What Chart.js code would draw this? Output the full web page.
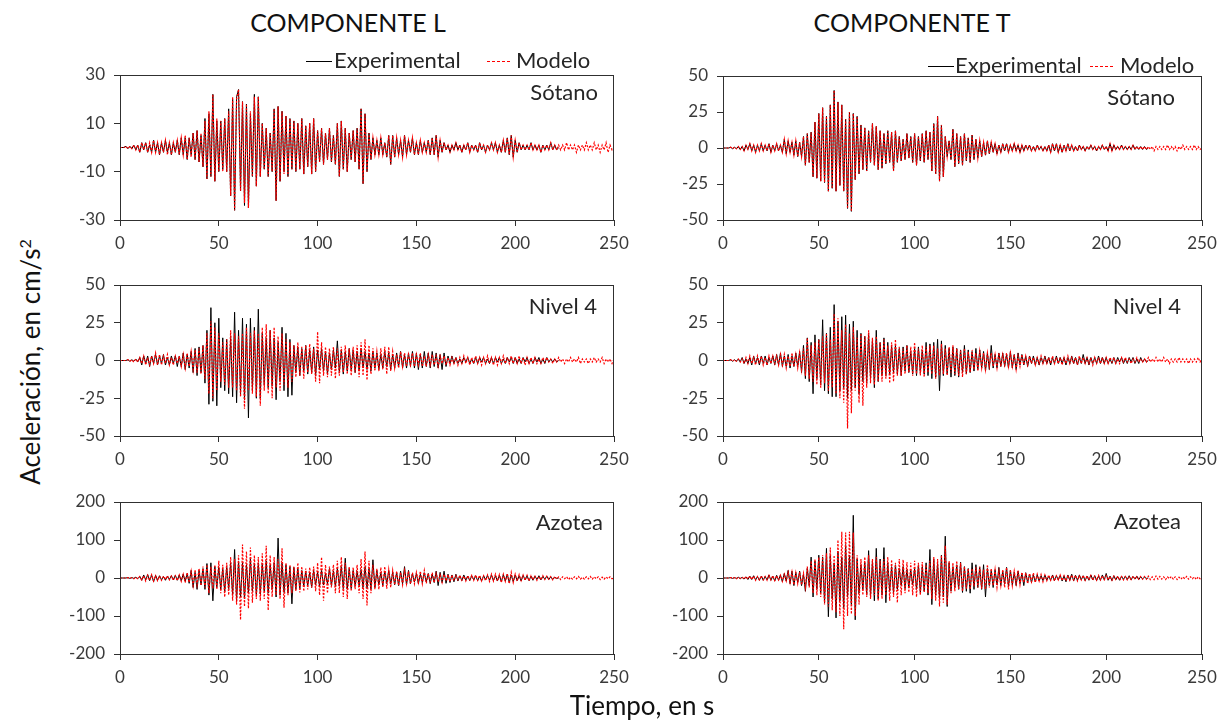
<!DOCTYPE html>
<html lang="es">
<head>
<meta charset="utf-8">
<script src="https://cdn.jsdelivr.net/npm/chart.js@4.4.1/dist/chart.umd.min.js"></script>
<style>
body{margin:0;background:#fff;font-family:Lato,'Open Sans',sans-serif;color:#000}
#lienzo{position:relative;width:1230px;height:724px;overflow:hidden}
#lienzo canvas{position:absolute}
.txt{position:absolute;white-space:nowrap;line-height:1}
.linea{position:absolute;height:1px}
</style>
</head>
<body>
<div id="lienzo"></div>
<script>
// textos
const componentes = ['COMPONENTE L', 'COMPONENTE T'];
const niveles = ['Sótano', 'Nivel 4', 'Azotea'];
const series = ['Experimental', 'Modelo'];
const ejeY = 'Aceleración, en cm/s';
const ejeX = 'Tiempo, en s';

// paso de tiempo de las muestras, s
const PASO = 1;
const tiempoMin = 0, tiempoMax = 250, tiempoPaso = 50;
const limitesY = [[-30, 30, 20], [-50, 50, 25], [-200, 200, 100]];
const limitesYT = [[-50, 50, 25], [-50, 50, 25], [-200, 200, 100]];

// Componente L - Sotano
const expLSotano = [
0,0,0,0.5,-0.5,0.5,-0.5,1,-1,1,
-2,2,-1,2,-2,1,-2,3,-2,2,
-3,2,-2,3,-2,2,-3,2,-2,3,
-3,4,-3,4,-5,4,-3,6,-5,7,
-6,5,-8,12,-13,14,-12,22,-14,11,
-10,11,-9,12,-10,16,-20,20,-26,21,
24,-18,19,-24,18,-25,14,-12,22,-16,
21,-12,10,-9,8,-12,6,-10,16,-22,
17,-14,15,-10,13,-12,12,-9,11,-10,
10,-9,12,-11,9,-8,10,-11,12,-10,
7,-6,8,-7,6,-5,8,-6,5,-7,
10,-12,11,-9,8,-10,6,-5,7,-6,
8,-9,16,-15,14,-10,6,-5,4,-3,
3,-3,4,-3,2,-4,5,-7,5,-4,
4,-3,3,-4,5,-3,3,-2,4,-3,
2,-3,3,-2,2,-2,3,-3,4,-3,
5,-4,3,-2,2,-1,1,-2,1,-1,
2,-1,1,-2,1,-1,2,-2,1,-1,
1,-2,2,-1,1,-2,1,-1,2,-1,
2,-2,1,-2,3,-2,4,-3,5,-4,
3,-2,2,-1,1,-1,1,-1,2,-1,
1,-1,1,-2,1,-1,1,-1,2,-1,
1,-1,0];
const modLSotano = [
0,0,0,0.5,-0.5,0.5,-0.5,1,-1,1,
-2,2,-1,2,-2,2,-2,3,-2,2,
-3,2,-2,3,-3,2,-3,2,-2,3,
-3,4,-3,5,-5,4,-4,6,-5,7,
-6,6,-8,11,-13,15,-12,22,-14,12,
-10,11,-10,12,-10,15,-20,21,-26,20,
24,-18,19,-23,18,-25,15,-12,21,-16,
21,-12,10,-9,8,-12,6,-10,16,-22,
17,-14,15,-11,13,-12,12,-9,11,-10,
10,-9,12,-11,9,-8,10,-11,12,-10,
7,-6,8,-7,6,-5,8,-6,5,-7,
10,-12,11,-9,8,-10,6,-5,7,-6,
8,-9,16,-15,14,-10,6,-5,4,-3,
3,-3,4,-3,2,-4,5,-7,5,-4,
4,-3,3,-4,5,-3,3,-2,4,-3,
2,-3,3,-2,2,-2,3,-3,4,-3,
5,-4,3,-2,2,-1,1,-2,1,-1,
2,-1,1,-2,1,-1,2,-2,1,-1,
1,-2,2,-1,1,-2,1,-1,2,-1,
2,-2,1,-2,3,-2,4,-3,5,-4,
3,-2,2,-1,1,-1,1,-1,2,-1,
1,-1,1,-2,1,-1,1,-1,2,-1,
1,-1,1,-1,1,-1,2,-1,1,-1,
1,-2,1,-1,1,-1,2,-1,1,-1,
2,-1,1,-2,1,-1,2,-2,1,-1,
0];

// Componente L - Nivel 4
const expLNivel4 = [
0,0,0,0,0.5,-0.5,0.5,-0.5,1,-1,
2,-3,3,-2,3,-4,3,-2,4,-3,
3,-2,4,-3,2,-3,3,-2,3,-4,
3,-4,5,-6,4,-5,6,-8,8,-10,
9,-8,10,-15,20,-29,35,-27,25,-30,
28,-18,15,-20,14,-22,16,-24,32,-28,
20,-22,28,-26,24,-38,28,-20,22,-25,
34,-25,18,-16,15,-18,20,-17,15,-26,
12,-14,22,-20,18,-24,14,-23,10,-8,
9,-10,8,-7,10,-9,7,-8,9,-10,
7,-6,8,-7,6,-9,5,-6,7,-5,
13,-8,7,-9,6,-7,8,-6,7,-8,
6,-7,8,-5,6,-6,5,-7,6,-5,
5,-6,4,-5,6,-4,5,-6,4,-5,
5,-4,6,-5,4,-5,5,-4,6,-5,
5,-6,4,-5,6,-4,5,-5,6,-4,
5,-5,4,-6,5,-4,3,-2,3,-2,
2,-2,1,-2,2,-1,2,-2,1,-2,
2,-2,2,-1,2,-2,1,-2,2,-2,
2,-1,2,-2,1,-2,2,-1,2,-2,
2,-2,1,-2,2,-1,2,-2,1,-2,
2,-1,2,-2,1,-2,2,-1,1,-1,
1,-1,0];
const modLNivel4 = [
0,0,0,0,0.5,-0.5,0.5,-1,1,-1,
2,-2,3,-3,2,-3,3,-2,5,-3,
4,-3,3,-2,4,-3,2,-3,3,-2,
3,-4,4,-5,5,-4,6,-6,7,-8,
8,-9,10,-12,18,-22,26,-25,22,-20,
18,-14,12,-16,14,-18,20,-18,18,-20,
16,-24,18,-32,22,-20,18,-22,20,-24,
18,-30,22,-20,24,-22,20,-25,22,-18,
16,-20,18,-16,14,-18,12,-14,10,-11,
12,-10,9,-12,10,-8,11,-9,8,-14,
19,-15,12,-10,9,-11,8,-10,9,-12,
8,-10,9,-8,10,-9,8,-10,9,-8,
10,-11,12,-10,14,-13,10,-9,8,-7,
6,-7,8,-6,9,-9,9,-7,6,-5,
4,-5,6,-4,5,-4,4,-3,5,-4,
4,-3,5,-4,3,-4,4,-3,4,-3,
3,-4,3,-2,3,-3,2,-3,2,-2,
2,-3,2,-2,3,-2,2,-3,2,-2,
3,-2,2,-3,2,-2,3,-2,2,-3,
2,-3,2,-2,3,-2,2,-2,3,-2,
2,-2,3,-2,2,-3,2,-2,2,-2,
2,-2,1,-2,2,-1,2,-1,1,-2,
1,-1,2,-1,1,-2,1,-1,2,-1,
1,-1,2,-2,1,-1,1,-2,1,-1,
2,-1,1,-1,2,-2,1,-1,1,-2,
1];

// Componente L - Azotea
const expLAzotea = [
0,0,0,0,1,-1,1,-1,2,-2,
4,-6,8,-5,9,-7,8,-10,7,-6,
6,-5,4,-6,5,-4,6,-5,7,-6,
8,-7,10,-9,12,-14,20,-25,15,-30,
20,-18,25,-30,38,-45,40,-60,30,-25,
28,-30,25,-35,30,-28,40,-45,75,-60,
45,-50,40,-55,35,-40,50,-35,38,-45,
40,-42,38,-35,45,-40,35,-30,40,-50,
105,-45,40,-38,35,-40,30,-68,28,-30,
25,-28,20,-22,18,-20,15,-25,20,-18,
15,-22,20,-18,12,-15,25,-20,18,-22,
25,-20,30,-28,52,-30,25,-28,20,-22,
18,-20,22,-25,30,-28,25,-30,48,-25,
20,-18,15,-20,18,-15,20,-16,15,-18,
15,-20,18,-15,30,-18,20,-15,12,-10,
12,-15,10,-12,14,-10,12,-15,10,-12,
18,-20,15,-12,18,-14,10,-12,8,-10,
10,-8,6,-7,8,-6,5,-7,6,-5,
6,-7,5,-8,6,-5,7,-6,8,-7,
6,-8,7,-10,9,-8,10,-12,8,-10,
8,-7,6,-8,7,-5,6,-7,5,-6,
5,-4,6,-5,4,-3,5,-4,3,-4,
2,-1,0];
const modLAzotea = [
0,0,0,0,1,-1,1,-2,2,-2,
4,-5,6,-8,7,-6,9,-8,6,-7,
5,-6,5,-4,6,-5,5,-6,6,-7,
8,-9,10,-12,14,-12,18,-20,22,-18,
25,-20,30,-25,35,-40,30,-28,35,-30,
45,-40,35,-50,40,-45,55,-60,50,-70,
60,-110,88,-75,70,-80,80,-65,60,-55,
55,-60,65,-55,85,-85,60,-50,55,-45,
50,-55,78,-78,40,-45,35,-40,30,-35,
40,-38,30,-35,25,-30,28,-25,30,-35,
40,-45,55,-60,35,-40,30,-25,35,-40,
45,-40,55,-50,40,-55,30,-35,28,-30,
35,-40,50,-55,70,-72,45,-40,35,-30,
25,-30,28,-25,30,-28,22,-25,20,-18,
18,-20,15,-18,20,-15,18,-16,14,-15,
15,-12,18,-15,20,-14,12,-10,14,-12,
12,-10,8,-12,10,-8,9,-10,8,-7,
6,-5,7,-6,5,-8,6,-5,7,-6,
8,-6,7,-8,6,-7,8,-9,10,-8,
10,-8,9,-12,10,-9,12,-15,15,-12,
10,-8,9,-7,8,-6,7,-8,6,-5,
5,-6,4,-5,6,-4,5,-3,4,-5,
4,-3,3,-4,3,-2,3,-4,2,-3,
3,-2,4,-3,2,-3,3,-2,4,-3,
3,-2,3,-4,2,-3,3,-2,3,-2,
1];

// Componente T - Sotano
const expTSotano = [
0,0,0,0,0.5,-0.5,0.5,-0.5,1,-1,
1,-2,2,-1,3,-2,2,-3,2,-2,
3,-2,2,-2,3,-3,2,-2,3,-2,
2,-3,6,-4,5,-3,4,-5,5,-6,
4,-6,8,-12,10,-10,11,-20,18,-21,
24,-23,28,-24,22,-30,30,-28,40,-30,
32,-26,30,-30,20,-42,25,-44,24,-22,
22,-18,16,-15,14,-16,12,-10,17,-12,
15,-15,12,-14,10,-11,12,-10,11,-16,
12,-10,8,-9,6,-8,10,-7,8,-10,
10,-12,8,-9,10,-10,12,-8,11,-16,
17,-18,22,-23,16,-20,8,-6,5,-8,
13,-13,10,-11,8,-12,10,-9,7,-10,
9,-8,6,-7,5,-6,4,-5,5,-4,
4,-3,3,-4,2,-3,3,-2,3,-3,
2,-2,3,-2,2,-3,2,-2,2,-1,
2,-2,1,-2,2,-1,1,-2,1,-2,
2,-3,3,-2,3,-3,2,-3,2,-2,
3,-2,2,-2,1,-2,2,-1,1,-2,
1,-1,2,-1,1,-2,1,-1,2,-1,
1,-2,3,-2,2,-1,1,-1,2,-1,
1,-1,1,-1,2,-1,1,-1,1,-1,
1,-1,0];
const modTSotano = [
0,0,0,0,0.5,-0.5,0.5,-0.5,1,-1,
1,-2,2,-1,3,-2,2,-3,2,-2,
3,-2,2,-2,3,-3,2,-2,3,-2,
2,-3,6,-4,5,-3,4,-5,5,-6,
4,-6,8,-12,10,-10,11,-20,18,-21,
24,-23,28,-24,22,-30,30,-28,40,-30,
32,-26,30,-30,20,-42,25,-44,24,-22,
22,-18,16,-15,14,-16,12,-10,17,-12,
15,-15,12,-14,10,-11,12,-10,11,-16,
12,-10,8,-9,6,-8,10,-7,8,-10,
10,-12,8,-9,10,-10,12,-8,11,-16,
17,-18,22,-23,16,-20,8,-6,5,-8,
13,-13,10,-11,8,-12,10,-9,7,-10,
9,-8,6,-7,5,-6,4,-5,5,-4,
4,-3,3,-4,2,-3,3,-2,3,-3,
2,-2,3,-2,2,-3,2,-2,2,-1,
2,-2,1,-2,2,-1,1,-2,1,-2,
2,-3,3,-2,3,-3,2,-3,2,-2,
3,-2,2,-2,1,-2,2,-1,1,-2,
1,-1,2,-1,1,-2,1,-1,2,-1,
1,-2,3,-2,2,-1,1,-1,2,-1,
1,-1,1,-1,2,-1,1,-1,1,-1,
1,-1,1,-1,1,-2,1,-1,1,-1,
1,-1,2,-1,1,-1,1,-2,1,-1,
2,-1,1,-1,1,-1,2,-1,1,-1,
0];

// Componente T - Nivel 4
const expTNivel4 = [
0,0,0,0,0.5,-0.5,0.5,-0.5,1,-1,
2,-2,1,-2,2,-3,3,-2,2,-3,
3,-2,3,-3,2,-2,3,-3,4,-3,
5,-4,3,-4,4,-5,3,-4,5,-4,
6,-8,10,-12,15,-14,12,-22,17,-12,
14,-16,27,-20,18,-22,22,-24,37,-24,
26,-20,29,-18,30,-25,24,-20,26,-18,
20,-22,18,-14,16,-15,18,-12,14,-18,
20,-14,12,-10,15,-10,12,-9,10,-8,
10,-9,8,-10,9,-7,10,-8,6,-9,
8,-10,9,-8,7,-9,12,-10,11,-12,
12,-11,14,-20,13,-10,10,-9,8,-11,
9,-10,8,-11,7,-8,10,-9,7,-8,
6,-7,8,-6,7,-5,6,-7,5,-6,
10,-5,4,-5,5,-4,5,-4,4,-5,
6,-5,4,-6,5,-3,4,-3,3,-4,
3,-2,3,-3,2,-3,2,-2,3,-2,
2,-3,2,-2,3,-2,2,-2,2,-3,
2,-2,3,-2,2,-3,2,-2,4,-2,
2,-3,2,-2,2,-2,3,-2,2,-2,
2,-2,1,-2,2,-2,2,-1,2,-2,
1,-2,2,-1,2,-2,1,-2,2,-1,
1,-1,0];
const modTNivel4 = [
0,0,0,0,0.5,-0.5,0.5,-0.5,1,-1,
1,-2,2,-2,3,-2,2,-3,3,-2,
3,-3,2,-3,3,-2,3,-2,3,-3,
4,-3,4,-5,3,-4,5,-4,4,-5,
5,-6,8,-10,15,-12,10,-14,12,-16,
14,-18,16,-15,18,-20,14,-18,31,-22,
28,-25,20,-28,24,-45,18,-35,22,-20,
15,-28,18,-30,16,-18,20,-15,15,-16,
16,-14,12,-14,14,-12,10,-15,12,-14,
14,-10,9,-10,8,-9,10,-8,9,-10,
12,-9,8,-10,10,-11,9,-8,10,-9,
10,-12,8,-10,11,-9,8,-10,9,-8,
10,-9,8,-10,7,-11,8,-9,6,-8,
7,-6,5,-7,6,-5,5,-6,5,-4,
5,-4,4,-5,5,-4,4,-3,5,-4,
5,-4,4,-6,3,-4,4,-3,3,-3,
3,-2,2,-3,2,-2,3,-2,2,-2,
2,-2,3,-2,2,-2,2,-3,2,-2,
3,-2,2,-2,2,-3,3,-2,2,-2,
2,-2,2,-3,2,-2,2,-2,2,-2,
2,-2,2,-1,2,-2,1,-2,2,-1,
2,-1,1,-2,1,-1,2,-1,1,-1,
1,-1,2,-1,1,-1,2,-1,1,-1,
2,-1,1,-2,1,-1,1,-1,2,-1,
1,-1,1,-2,1,-1,1,-1,2,-1,
1];

// Componente T - Azotea
const expTAzotea = [
0,0,0,0,1,-1,1,-1,2,-2,
2,-3,3,-4,5,-4,6,-5,4,-6,
5,-6,4,-5,8,-6,5,-8,7,-6,
8,-10,12,-8,20,-15,18,-20,15,-12,
18,-20,10,-35,25,-20,55,-50,45,-30,
60,-40,55,-65,78,-102,60,-55,40,-105,
70,-60,55,-80,88,-50,60,-70,165,-110,
50,-40,35,-30,40,-45,72,-50,45,-60,
78,-55,50,-45,80,-65,40,-35,30,-40,
35,-30,25,-20,30,-28,22,-25,20,-18,
25,-30,35,-40,30,-35,40,-45,75,-70,
50,-45,40,-55,60,-50,110,-75,40,-35,
30,-25,35,-30,42,-38,30,-35,25,-40,
40,-30,35,-25,28,-30,35,-50,25,-20,
20,-25,22,-18,28,-20,18,-15,28,-22,
20,-18,15,-20,18,-15,12,-20,14,-12,
10,-12,8,-10,9,-8,6,-7,8,-6,
5,-6,8,-7,6,-5,7,-8,6,-10,
8,-6,10,-8,7,-6,8,-5,6,-7,
5,-6,8,-5,6,-7,5,-6,8,-5,
12,-6,5,-7,6,-5,4,-6,5,-4,
5,-4,6,-5,4,-3,5,-4,3,-2,
2,-1,0];
const modTAzotea = [
0,0,0,0,1,-1,1,-2,2,-1,
2,-3,4,-3,5,-4,5,-6,4,-5,
6,-5,4,-6,7,-5,6,-7,6,-5,
7,-9,10,-8,15,-12,16,-18,14,-15,
16,-18,12,-25,30,-25,45,-40,50,-45,
55,-50,60,-70,65,-75,80,-85,60,-90,
100,-100,122,-135,120,-100,122,-95,120,-100,
60,-70,50,-45,55,-50,60,-55,50,-45,
55,-60,45,-55,50,-45,55,-60,48,-50,
40,-65,50,-45,48,-40,42,-38,40,-45,
45,-50,40,-45,42,-38,35,-40,45,-55,
55,-60,50,-75,60,-65,85,-70,45,-40,
40,-35,45,-30,40,-35,30,-28,25,-30,
25,-22,28,-25,30,-28,22,-30,35,-25,
25,-20,22,-25,18,-20,22,-25,28,-30,
22,-20,18,-15,20,-18,15,-12,14,-15,
12,-10,14,-12,10,-8,9,-10,8,-7,
8,-6,7,-8,6,-5,8,-7,6,-8,
7,-6,8,-5,7,-8,6,-5,7,-6,
6,-5,7,-6,5,-6,7,-5,6,-5,
6,-5,4,-6,5,-4,5,-6,4,-5,
4,-5,3,-4,5,-3,4,-3,4,-3,
4,-3,5,-4,3,-4,5,-3,4,-3,
3,-4,3,-2,4,-3,3,-4,2,-3,
3,-2,4,-3,3,-2,3,-4,3,-2,
1];

Chart.defaults.font.family = "Lato, 'Open Sans', sans-serif";
Chart.defaults.color = '#3a3a3a';

const lienzo = document.getElementById('lienzo');
const ML = 70, MT = 24, MR = 26, MB = 38;
const colorEje = '#303030';
const fuenteTicks = {size: 17};

function pares(serie){
    return serie.map((v, i) => ({x: i * PASO, y: v}));
}

const marco = {
    id: 'marco',
    afterDraw(c){
        const a = c.chartArea, ctx = c.ctx;
        ctx.save();
        ctx.strokeStyle = colorEje;
        ctx.lineWidth = 1;
        ctx.strokeRect(Math.round(a.left) + 0.5, Math.round(a.top) + 0.5,
            Math.round(a.right - a.left) - 1, Math.round(a.bottom - a.top));
        ctx.restore();
    }
};

function texto(t, css, html){
    const d = document.createElement('div');
    d.className = 'txt';
    if (html) d.innerHTML = t; else d.textContent = t;
    Object.assign(d.style, css);
    lienzo.appendChild(d);
    return d;
}

function panel(p){
    const cv = document.createElement('canvas');
    const W = p.w + ML + MR, H = p.h + MT + MB;
    cv.width = W; cv.height = H;
    cv.style.left = (p.left - ML) + 'px';
    cv.style.top = (p.top - MT) + 'px';
    cv.style.width = W + 'px'; cv.style.height = H + 'px';
    lienzo.appendChild(cv);
    new Chart(cv, {
        type: 'line',
        data: {
            datasets: [
                {label: series[1], data: pares(p.mod), borderColor: '#ff0000', borderWidth: 1.2,
                 borderDash: [2, 1.5], pointRadius: 0, tension: 0, order: 0},
                {label: series[0], data: pares(p.exp), borderColor: '#000000', borderWidth: 1,
                 pointRadius: 0, tension: 0, order: 1}
            ]
        },
        options: {
            responsive: false,
            animation: false,
            events: [],
            layout: {padding: {top: MT, right: MR, left: 0, bottom: 0}},
            plugins: {legend: {display: false}, tooltip: {enabled: false}},
            scales: {
                x: {
                    type: 'linear', min: tiempoMin, max: tiempoMax,
                    ticks: {stepSize: tiempoPaso, font: fuenteTicks, padding: 7, maxRotation: 0},
                    grid: {drawOnChartArea: false, tickLength: 6, color: colorEje},
                    border: {color: colorEje},
                    afterFit(s){ s.height = MB; }
                },
                y: {
                    min: p.lim[0], max: p.lim[1],
                    ticks: {stepSize: p.lim[2], font: fuenteTicks, padding: 9},
                    grid: {drawOnChartArea: false, tickLength: 6, color: colorEje},
                    border: {color: colorEje},
                    afterFit(s){ s.width = ML; }
                }
            }
        },
        plugins: [marco]
    });
    texto(p.nombre, {right: (1230 - p.etqX) + 'px', top: (p.etqY - 11) + 'px', fontSize: '22px', color: '#262626'});
}

const filasY = [[75, 145], [285, 151], [502, 152]];
const expL = [expLSotano, expLNivel4, expLAzotea], modL = [modLSotano, modLNivel4, modLAzotea];
const expT = [expTSotano, expTNivel4, expTAzotea], modT = [modTSotano, modTNivel4, modTAzotea];
const etqL = [[598, 92], [597, 306], [603, 522]];
const etqT = [[1175, 97], [1181, 306], [1181, 521]];

for (let i = 0; i < 3; i++){
    panel({left: 120, w: 494, top: filasY[i][0], h: filasY[i][1], lim: limitesY[i],
           exp: expL[i], mod: modL[i], nombre: niveles[i], etqX: etqL[i][0], etqY: etqL[i][1]});
    panel({left: 723, w: 479, top: filasY[i][0] + (i === 0 ? 1 : 0), h: filasY[i][1] - (i === 0 ? 1 : 0), lim: limitesYT[i],
           exp: expT[i], mod: modT[i], nombre: niveles[i], etqX: etqT[i][0], etqY: etqT[i][1]});
}

// titulos
texto(componentes[0], {left: '348px', top: '22px', fontSize: '25px', color: '#111', transform: 'translate(-50%,-50%)'});
texto(componentes[1], {left: '912px', top: '22px', fontSize: '25px', color: '#111', transform: 'translate(-50%,-50%)'});
texto(ejeY + '<sup style="font-size:16px">2</sup>', {left: '30px', top: '362px', fontSize: '26px', color: '#111',
      transform: 'translate(-50%,-50%) rotate(-90deg)'}, true);
texto(ejeX, {left: '642px', top: '705px', fontSize: '26px', color: '#111', transform: 'translate(-50%,-50%)'});

// leyendas
function leyenda(y, x1, x2, x3, x4){
    const a = document.createElement('div');
    a.className = 'linea';
    Object.assign(a.style, {left: x1 + 'px', top: y + 'px', width: '26px', background: '#000'});
    lienzo.appendChild(a);
    texto(series[0], {left: x2 + 'px', top: (y - 12) + 'px', fontSize: '22px', color: '#262626'});
    const b = document.createElement('div');
    b.className = 'linea';
    Object.assign(b.style, {left: x3 + 'px', top: y + 'px', width: '24px',
        background: 'repeating-linear-gradient(90deg, #ff0000 0 3px, transparent 3px 5px)'});
    lienzo.appendChild(b);
    texto(series[1], {left: x4 + 'px', top: (y - 12) + 'px', fontSize: '22px', color: '#262626'});
}
leyenda(61, 306, 334, 487, 516);
leyenda(66, 928, 955, 1090, 1120);
</script>
</body>
</html>
